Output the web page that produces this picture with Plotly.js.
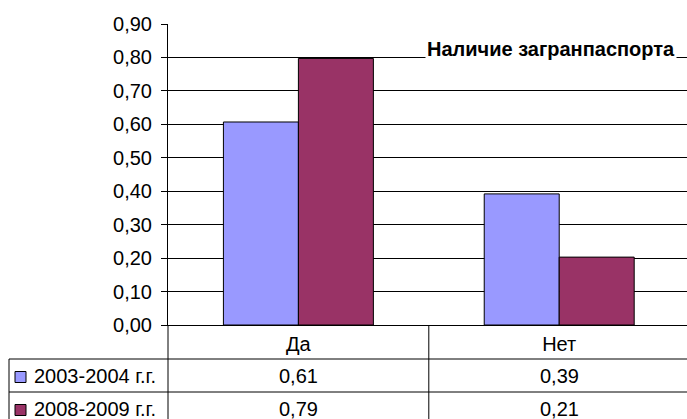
<!DOCTYPE html>
<html>
<head>
<meta charset="utf-8">
<script src="https://cdn.plot.ly/plotly-3.0.1.min.js"></script>
<style>
  html, body { margin: 0; padding: 0; background: #fff; }
  #graph { width: 687px; height: 419px; }
</style>
</head>
<body>
<div id="graph"></div>
<script>
const categories = ['Да', 'Нет'];
const seriesNames = ['2003-2004 г.г.', '2008-2009 г.г.'];
// высота столбцов (по рисунку)
const values2003 = [0.607, 0.392];
const values2008 = [0.797, 0.203];
// подписи в таблице данных
const labels2003 = ['0,61', '0,39'];
const labels2008 = ['0,79', '0,21'];
const chartTitle = 'Наличие загранпаспорта';

const colors = ['#9999FF', '#993366'];
const FONT = 'Liberation Sans, Arial, sans-serif';
const FS = 20;

// размеры области построения (в пикселях)
const W = 687, H = 419;
const L = 168, T = 24, B = 94;
const plotW = W - L, plotH = H - T - B;
const xRange = [-0.5, 1.49];

// пиксели -> доли paper
const px = x => (x - L) / plotW;
const py = y => (H - B - y) / plotH;
const xd = v => (v - xRange[0]) / (xRange[1] - xRange[0]);

const allValues = [values2003, values2008];
const allLabels = [labels2003, labels2008];

const data = allValues.map((vals, i) => ({
    x: categories, y: vals,
    type: 'bar',
    name: seriesNames[i],
    marker: { color: colors[i], line: { color: '#000', width: 1 } },
    hoverinfo: 'none'
}));

// таблица данных под графиком
const line = (x0, y0, x1, y1) => ({
    type: 'line', xref: 'paper', yref: 'paper',
    x0: x0, y0: y0, x1: x1, y1: y1,
    line: { color: '#000', width: 1 }
});

const rowTop = [359, 392];
const rowH = 33;
const tableBottom = 430;

const shapes = [
    line(px(9), py(rowTop[0]), xd(xRange[1]), py(rowTop[0])),
    line(px(9), py(rowTop[1]), xd(xRange[1]), py(rowTop[1])),
    line(px(9), py(rowTop[0]), px(9), py(tableBottom)),
    line(0, 0, 0, py(tableBottom)),
    line(xd(0.5), 0, xd(0.5), py(tableBottom))
];

const annotations = [{
    text: '<b>' + chartTitle + '</b>',
    xref: 'paper', yref: 'paper',
    x: px(551), y: py(49),
    xanchor: 'center', yanchor: 'middle',
    showarrow: false,
    bgcolor: '#fff',
    borderpad: 1,
    font: { family: FONT, size: FS, color: '#000' }
}];

seriesNames.forEach((name, i) => {
    const cy = rowTop[i] + rowH / 2;
    shapes.push({
        type: 'rect', xref: 'paper', yref: 'paper',
        x0: px(15), x1: px(26), y0: py(cy - 4), y1: py(cy + 7),
        fillcolor: colors[i],
        line: { color: '#000', width: 1 }
    });
    annotations.push({
        text: name,
        xref: 'paper', yref: 'paper',
        x: px(32), y: py(cy),
        xanchor: 'left', yanchor: 'middle',
        showarrow: false,
        font: { family: FONT, size: FS, color: '#000' }
    });
    allLabels[i].forEach((t, j) => {
        annotations.push({
            text: t,
            xref: 'x', yref: 'paper',
            x: categories[j], y: py(cy),
            xanchor: 'center', yanchor: 'middle',
            showarrow: false,
            font: { family: FONT, size: FS, color: '#000' }
        });
    });
});

Plotly.newPlot('graph', data, {
    width: W, height: H,
    margin: { l: L, r: 0, t: T, b: B },
    paper_bgcolor: '#fff',
    plot_bgcolor: '#fff',
    separators: ', ',
    showlegend: false,
    barmode: 'group',
    bargap: 0.425,
    bargroupgap: 0,
    font: { family: FONT, size: FS, color: '#000' },
    xaxis: {
        range: xRange,
        showgrid: false,
        showline: true, linecolor: '#000', linewidth: 1,
        ticks: '', ticklabelstandoff: 1,
        tickfont: { family: FONT, size: FS, color: '#000' },
        fixedrange: true
    },
    yaxis: {
        range: [0, 0.9],
        dtick: 0.1,
        tickformat: '.2f',
        showgrid: true, gridcolor: '#000', gridwidth: 1,
        zeroline: false,
        showline: true, linecolor: '#000', linewidth: 1,
        ticks: 'outside', ticklen: 6, tickcolor: '#000',
        ticklabelstandoff: 5,
        tickfont: { family: FONT, size: FS, color: '#000' },
        fixedrange: true
    },
    shapes: shapes,
    annotations: annotations
}, { displayModeBar: false, staticPlot: true });
</script>
</body>
</html>
